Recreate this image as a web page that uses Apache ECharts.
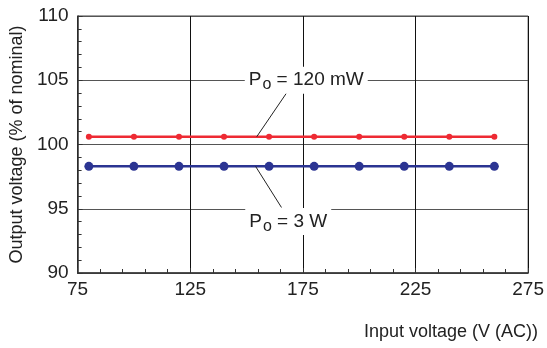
<!DOCTYPE html>
<html>
<head>
<meta charset="utf-8">
<script src="https://cdn.jsdelivr.net/npm/echarts@6/dist/echarts.min.js"></script>
<style>
  html, body { margin: 0; padding: 0; background: #fff; }
  #chart { width: 547px; height: 348px; }
</style>
</head>
<body>
<div id="chart"></div>
<script>
// Input voltage (V AC) at each measurement point
const inputVoltage = [80, 100, 120, 140, 160, 180, 200, 220, 240, 260];
// Output voltage as % of nominal, light load
const out120mW = [100.6, 100.6, 100.6, 100.6, 100.6, 100.6, 100.6, 100.6, 100.6, 100.6];
// Output voltage as % of nominal, full load
const out3W = [98.3, 98.3, 98.3, 98.3, 98.3, 98.3, 98.3, 98.3, 98.3, 98.3];
const xTicks = [75, 125, 175, 225, 275];
const yTicks = [90, 95, 100, 105, 110];

const FONT = 'Liberation Sans, Arial, Helvetica, sans-serif';

function pairs(xs, ys) { return xs.map((x, i) => [x, ys[i]]); }

const labelRich = {
  m: { fontSize: 19, color: '#222', fontFamily: FONT },
  s: { fontSize: 16, color: '#222', fontFamily: FONT, padding: [9, 0, 0, 1] }
};

function annotation(text, coord, from, to) {
  return {
    markPoint: {
      symbolSize: 0,
      silent: true,
      data: [{
        coord: coord,
        label: {
          show: true,
          position: 'inside',
          formatter: text,
          rich: labelRich,
          backgroundColor: '#fff',
          padding: [1, 4, 1, 4]
        }
      }]
    },
    markLine: {
      symbol: 'none',
      silent: true,
      label: { show: false },
      lineStyle: { color: '#222', width: 1, type: 'solid' },
      data: [[{ coord: from }, { coord: to }]]
    }
  };
}

const chart = echarts.init(document.getElementById('chart'));
chart.setOption({
  animation: false,
  backgroundColor: '#fff',
  grid: {
    left: 76, right: 17, top: 16, bottom: 75,
    show: true, borderColor: '#444', borderWidth: 1
  },
  xAxis: {
    type: 'value',
    min: xTicks[0], max: xTicks[xTicks.length - 1], interval: 50,
    axisLine: { show: true, lineStyle: { color: '#333', width: 1.5 } },
    axisTick: { show: true, inside: true, length: 5, lineStyle: { color: '#333' } },
    minorTick: { show: true, splitNumber: 5, length: 4, lineStyle: { color: '#333' } },
    axisLabel: { color: '#222', fontSize: 19, fontFamily: FONT, margin: 7 },
    splitLine: { show: true, lineStyle: { color: '#111', width: 1 } }
  },
  yAxis: {
    type: 'value',
    min: yTicks[0], max: yTicks[yTicks.length - 1], interval: 5,
    name: 'Output voltage (% of nominal)',
    nameLocation: 'middle',
    nameGap: 46,
    nameTextStyle: { color: '#222', fontSize: 18, fontFamily: FONT },
    axisLine: { show: true, lineStyle: { color: '#333', width: 1.5 } },
    axisTick: { show: true, inside: true, length: 5, lineStyle: { color: '#333' } },
    minorTick: { show: true, splitNumber: 5, length: 4, lineStyle: { color: '#333' } },
    axisLabel: { color: '#222', fontSize: 19, fontFamily: FONT, margin: 9 },
    splitLine: { show: true, lineStyle: { color: '#555', width: 1 } }
  },
  graphic: [{
    type: 'text',
    right: 9,
    top: 323,
    style: {
      text: 'Input voltage (V (AC))',
      fill: '#222',
      font: '18px ' + FONT
    }
  }],
  series: [
    Object.assign({
      name: 'Po = 120 mW',
      type: 'line',
      data: pairs(inputVoltage, out120mW),
      symbol: 'circle',
      symbolSize: 6,
      lineStyle: { color: '#ee2a33', width: 2.5 },
      itemStyle: { color: '#ee2a33' },
      z: 3
    }, annotation('{m|P}{s|o}{m| = 120 mW}', [176.5, 105], [154.5, 100.6], [168.5, 104.2])),
    Object.assign({
      name: 'Po = 3 W',
      type: 'line',
      data: pairs(inputVoltage, out3W),
      symbol: 'circle',
      symbolSize: 9,
      lineStyle: { color: '#2b3492', width: 2.5 },
      itemStyle: { color: '#2b3492' },
      z: 3
    }, annotation('{m|P}{s|o}{m| = 3 W}', [168.5, 94], [154, 98.3], [165.5, 95.1]))
  ]
});
</script>
</body>
</html>
